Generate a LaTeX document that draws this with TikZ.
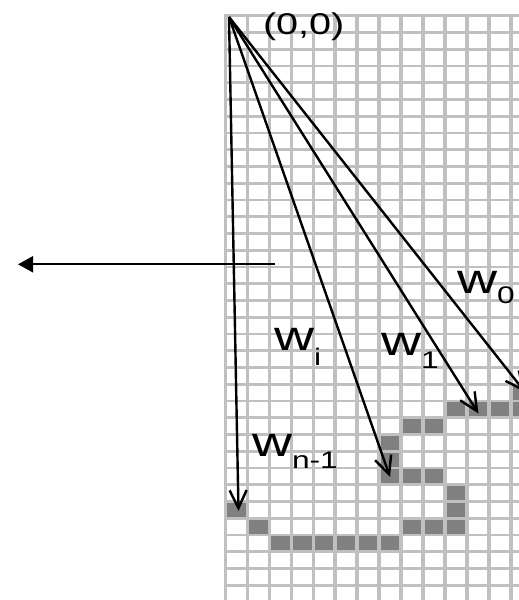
\documentclass[tikz,border=0pt]{standalone}
\usepackage{fontspec}
\setmainfont{Liberation Sans}
\usetikzlibrary{arrows.meta}
\definecolor{gridgray}{RGB}{192,192,192}
\definecolor{cellgray}{RGB}{128,128,128}
\newcommand{\wlab}[2]{\scalebox{1.32}[1]{\fontsize{42}{42}\selectfont w\raisebox{-#2pt}{\fontsize{24}{24}\selectfont #1}}}
\begin{document}
\begin{tikzpicture}[x=1pt,y=-1pt,
  vline/.style={draw=gridgray,line width=3.6pt},
  hline/.style={draw=gridgray,line width=2.8pt},
  cell/.style={fill=cellgray},
  vec/.style={draw=black,line width=2.4pt,-{Straight Barb[length=18pt,width=17pt]}},
  harrow/.style={draw=black,line width=1.9pt,-{Triangle[length=15pt,width=16pt]}},
  lbl/.style={inner sep=0pt,outer sep=0pt,text=black}]
\useasboundingbox (0,0) rectangle (519,600);
\clip (0,0) rectangle (519,600);
\def\gx{225.5}\def\gw{21.95}\def\gy{15.8}\def\gh{16.75}
% filled cells
\foreach \c/\r in {13/22,10/23,11/23,12/23,13/23,8/24,9/24,7/25,7/26,7/27,8/27,9/27,10/28,10/29,8/30,9/30,10/30,0/29,1/30,2/31,3/31,4/31,5/31,6/31,7/31}
  \fill[cell] ({\gx+\c*\gw},{\gy+\r*\gh}) rectangle ++(\gw,\gh);
% grid
\foreach \c in {0,...,13}
  \draw[vline] ({\gx+\c*\gw},{\gy-1.4}) -- ({\gx+\c*\gw},600);
\foreach \r in {0,...,35}
  \draw[hline] ({\gx-1.8},{\gy+\r*\gh}) -- (519,{\gy+\r*\gh});
% vectors
\coordinate (O) at (229,17);
\coordinate (tn) at (238.5,511);
\coordinate (ti) at (390,477);
\coordinate (t1) at (478.5,413.5);
\coordinate (t0) at (525,392);
\draw[vec] (O) -- (tn);
\draw[vec] (O) -- (ti);
\draw[vec] (O) -- (t1);
\draw[vec] (O) -- (t0);
% horizontal arrow
\coordinate (hs) at (275,264.3);
\coordinate (he) at (18,264.3);
\draw[harrow] (hs) -- (he);
% labels
\node[lbl,anchor=base west] (orig) at (263,34.5) {\scalebox{1.32}[1]{\fontsize{30}{30}\selectfont (0,0)}};
\node[lbl,anchor=base west] (lab0) at (457,293.3) {\wlab{0}{10}};
\node[lbl,anchor=base west] (labi) at (274,350) {\wlab{i}{15}};
\node[lbl,anchor=base west] (lab1) at (381,355) {\wlab{1}{13}};
\node[lbl,anchor=base west] (labn) at (252,456.7) {\wlab{n-1}{12}};
\end{tikzpicture}
\end{document}
